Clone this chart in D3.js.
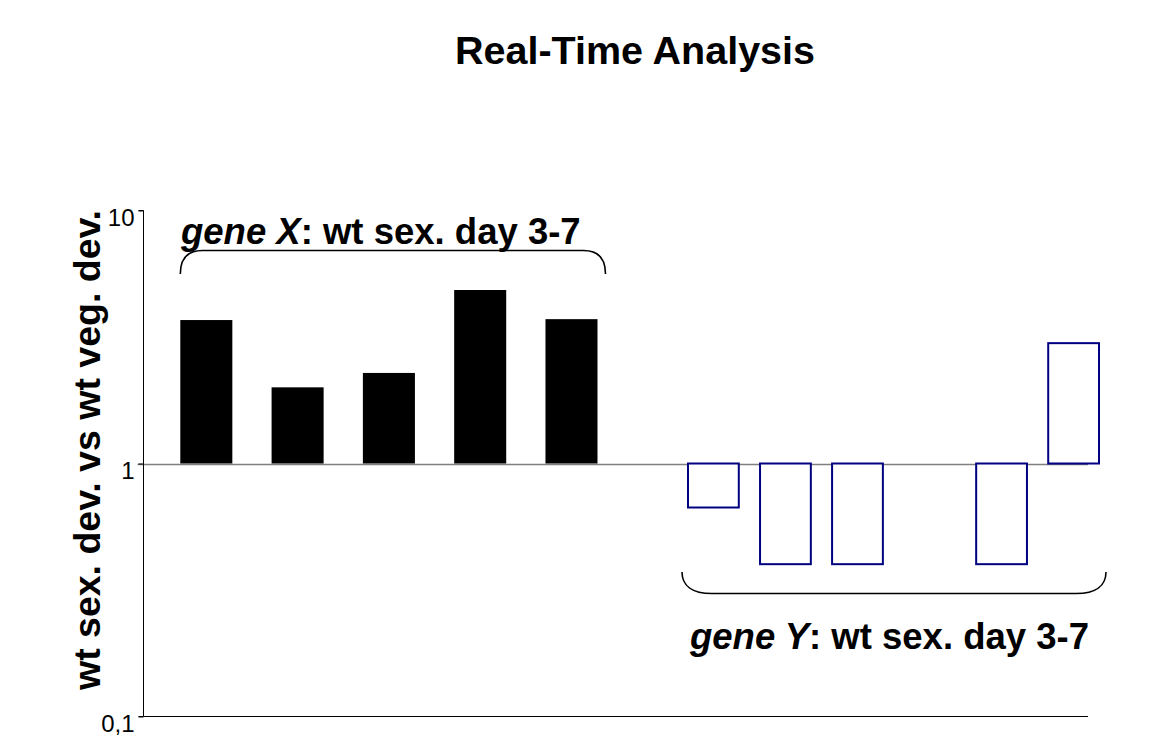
<!DOCTYPE html>
<html>
<head>
<meta charset="utf-8">
<script src="https://cdn.jsdelivr.net/npm/d3@7"></script>
<style>
  html, body { margin: 0; padding: 0; background: #ffffff; }
  svg { display: block; }
  text { font-family: "Liberation Sans", Arial, Helvetica, sans-serif; }
</style>
</head>
<body>
<svg id="chart" width="1161" height="754"></svg>
<script>
// ---- data ----
const titleText = "Real-Time Analysis";
const yAxisTitle = "wt sex. dev. vs wt veg. dev.";
const geneXDays = ["3", "4", "5", "6", "7"];
const geneXValues = [3.69, 2.00, 2.28, 4.85, 3.72];
const geneYSlots = ["3", "4", "5", "", "6", "7"];
const geneYValues = [0.67, 0.40, 0.40, null, 0.40, 2.99];
const yTickValues = [0.1, 1, 10];
const yTickLabels = ["0,1", "1", "10"];
const geneXLabel = ["gene X", ": wt sex. day 3-7"];
const geneYLabel = ["gene Y", ": wt sex. day 3-7"];

// ---- layout ----
const svg = d3.select("#chart");
const axisX = 143.5;
const plotRight = 1088;

const y = d3.scaleLog().domain([0.1, 10]).range([716.5, 210.5]);

const xX = d3.scaleBand().domain(geneXDays).range([180.3, 597.5])
  .paddingInner(0.43).paddingOuter(0);
const xY = d3.scaleBand().domain(geneYSlots).range([688, 1099])
  .paddingInner(0.295).paddingOuter(0);

// title
svg.append("text")
  .attr("x", 635).attr("y", 64)
  .attr("text-anchor", "middle")
  .attr("font-size", 39.5).attr("font-weight", "bold")
  .attr("fill", "#000")
  .text(titleText);

// y-axis title
svg.append("text")
  .attr("transform", `translate(100,450) rotate(-90)`)
  .attr("text-anchor", "middle")
  .attr("font-size", 37.5).attr("font-weight", "bold")
  .attr("fill", "#000")
  .text(yAxisTitle);

// baseline at 1 (gray)
svg.append("line")
  .attr("x1", axisX - 6).attr("x2", plotRight)
  .attr("y1", Math.round(y(1)) + 0.5).attr("y2", Math.round(y(1)) + 0.5)
  .attr("stroke", "#808080").attr("stroke-width", 1.5);

// bottom line at 0.1
svg.append("line")
  .attr("x1", axisX).attr("x2", plotRight)
  .attr("y1", y(0.1)).attr("y2", y(0.1))
  .attr("stroke", "#000").attr("stroke-width", 1);

// y axis
const yAxis = d3.axisLeft(y)
  .tickValues(yTickValues)
  .tickSize(5)
  .tickPadding(4)
  .tickFormat((d, i) => yTickLabels[i]);
const gAxis = svg.append("g")
  .attr("transform", `translate(${axisX},0)`)
  .call(yAxis);
gAxis.select(".domain").attr("stroke", "#000").attr("d", `M-5,${y(10)}H0V${y(0.1)}H-5`);
gAxis.selectAll(".tick line").attr("stroke", "#000");
gAxis.selectAll(".tick text")
  .attr("font-size", 24)
  .attr("font-family", "'Liberation Sans', Arial, sans-serif")
  .attr("fill", "#000")
  .attr("dy", "0.62em");

// gene X bars (black)
svg.append("g").selectAll("rect")
  .data(geneXValues.map((v, i) => ({ day: geneXDays[i], v })))
  .join("rect")
  .attr("x", d => xX(d.day))
  .attr("width", xX.bandwidth())
  .attr("y", d => Math.min(y(d.v), y(1)))
  .attr("height", d => Math.abs(y(d.v) - y(1)))
  .attr("fill", "#000");

// gene Y bars (navy outline)
svg.append("g").selectAll("rect")
  .data(geneYValues.map((v, i) => ({ slot: geneYSlots[i], v })).filter(d => d.v != null))
  .join("rect")
  .attr("x", d => xY(d.slot))
  .attr("width", xY.bandwidth())
  .attr("y", d => Math.min(y(d.v), y(1)))
  .attr("height", d => Math.abs(y(d.v) - y(1)))
  .attr("fill", "#fff")
  .attr("stroke", "#000080")
  .attr("stroke-width", 2);

// braces
function braceDown(x0, x1, yEnd, yLine) {
  const r = 22;
  return `M${x0},${yEnd} C${x0},${yLine + 7} ${x0 + 8},${yLine} ${x0 + r},${yLine} ` +
         `L${x1 - r},${yLine} C${x1 - 8},${yLine} ${x1},${yLine + 7} ${x1},${yEnd}`;
}
function braceUp(x0, x1, yEnd, yLine) {
  const r = 30;
  return `M${x0},${yEnd} C${x0},${yLine - 8} ${x0 + 10},${yLine} ${x0 + r},${yLine} ` +
         `L${x1 - r},${yLine} C${x1 - 10},${yLine} ${x1},${yLine - 8} ${x1},${yEnd}`;
}
const xBraceL = xX(geneXDays[0]);
const xBraceR = xX(geneXDays[geneXDays.length - 1]) + xX.bandwidth() + 8;
svg.append("path")
  .attr("d", braceDown(xBraceL, xBraceR, 274, 250.5))
  .attr("fill", "none").attr("stroke", "#000").attr("stroke-width", 1.6);

const yBraceL = xY(geneYSlots[0]) - 6;
const yBraceR = xY(geneYSlots[geneYSlots.length - 1]) + xY.bandwidth() + 7;
svg.append("path")
  .attr("d", braceUp(yBraceL, yBraceR, 572, 593.5))
  .attr("fill", "none").attr("stroke", "#000").attr("stroke-width", 1.6);

// group labels
function groupLabel(x, yb, parts) {
  const t = svg.append("text")
    .attr("x", x).attr("y", yb)
    .attr("font-size", 36.5).attr("font-weight", "bold").attr("fill", "#000");
  t.append("tspan").attr("font-style", "italic").text(parts[0]);
  t.append("tspan").text(parts[1]);
}
groupLabel(181, 244, geneXLabel);
groupLabel(690, 649, geneYLabel);
</script>
</body>
</html>
